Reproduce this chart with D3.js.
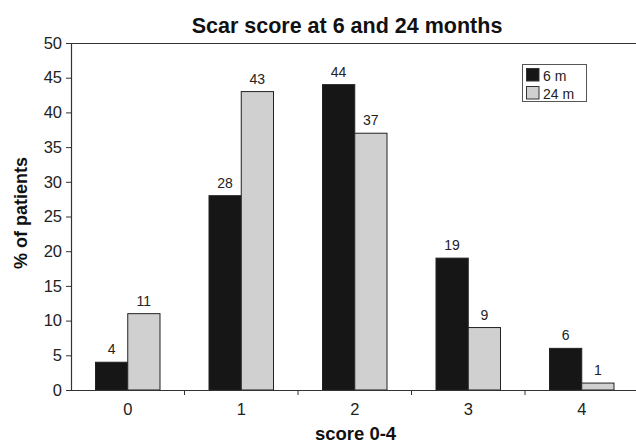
<!DOCTYPE html>
<html><head><meta charset="utf-8">
<script src="https://cdn.jsdelivr.net/npm/d3@7"></script>
<style>body{margin:0;background:#fff}svg{display:block}text{font-family:"Liberation Sans",Arial,sans-serif}</style>
</head><body>
<svg id="c" width="636" height="444"></svg>
<script>
const categories = ["0","1","2","3","4"];
const seriesNames = ["6 m","24 m"];
const values6m = [4,28,44,19,6];
const values24m = [11,43,37,9,1];
const yTicks = [0,5,10,15,20,25,30,35,40,45,50];
const colors = ["#161616","#d0d0d0"];

(function(){
const svg = d3.select("#c");
const mLeft = 71, mRight = 638.5, mTop = 43, mBottom = 390;
const x = d3.scaleBand().domain(categories).range([mLeft,mRight]).paddingInner(0).paddingOuter(0);
const x1 = d3.scaleBand().domain(seriesNames).range([24.5, x.bandwidth()-24.5]);
const y = d3.scaleLinear().domain([0,50]).range([mBottom,mTop]);

const data = categories.map((c,i)=>({cat:c, vals:[values6m[i], values24m[i]]}));

svg.append("line").attr("x1",mLeft).attr("x2",636).attr("y1",mTop+0.5).attr("y2",mTop+0.5).attr("stroke","#333").attr("stroke-width",1.2);

const g = svg.append("g");
data.forEach(d=>{
  d.vals.forEach((v,j)=>{
    const bx = x(d.cat)+x1(seriesNames[j]);
    g.append("rect").attr("x",bx).attr("y",y(v)).attr("width",x1.bandwidth()).attr("height",mBottom-y(v))
      .attr("fill",colors[j]).attr("stroke","#222").attr("stroke-width",1);
    g.append("text").attr("x",bx+x1.bandwidth()/2).attr("y",y(v)-8).attr("text-anchor","middle")
      .attr("font-size",14).attr("fill","#222").text(v);
  });
});

const ya = svg.append("g").attr("transform",`translate(${mLeft},0)`)
  .call(d3.axisLeft(y).tickValues(yTicks).tickSize(5).tickPadding(4));
ya.select(".domain").attr("stroke","#333").attr("stroke-width",1.2);
ya.selectAll(".tick line").attr("stroke","#333");
ya.selectAll(".tick text").attr("font-size",16.5).attr("fill","#222").attr("font-family","Liberation Sans, Arial, sans-serif");

const xa = svg.append("g").attr("transform",`translate(0,${mBottom})`)
  .call(d3.axisBottom(x).tickSize(0).tickPadding(13));
xa.select(".domain").attr("stroke","#333").attr("stroke-width",1.2);
xa.selectAll(".tick text").attr("font-size",16.5).attr("fill","#222").attr("font-family","Liberation Sans, Arial, sans-serif");
const xb = categories.slice(1).map(c=>x(c));
svg.append("g").selectAll("line").data(xb).join("line")
  .attr("x1",d=>d).attr("x2",d=>d).attr("y1",mBottom).attr("y2",mBottom+5).attr("stroke","#333");

svg.append("text").attr("x",347).attr("y",33).attr("text-anchor","middle").attr("font-weight","bold")
  .attr("font-size",21.5).attr("fill","#111").text("Scar score at 6 and 24 months");
svg.append("text").attr("x",355.5).attr("y",439.5).attr("text-anchor","middle").attr("font-weight","bold")
  .attr("font-size",18.5).attr("fill","#111").text("score 0-4");
svg.append("text").attr("transform","translate(26.5,213) rotate(-90)").attr("text-anchor","middle").attr("font-weight","bold")
  .attr("font-size",18).attr("fill","#111").text("% of patients");

const lg = svg.append("g");
lg.append("rect").attr("x",522.5).attr("y",64.5).attr("width",64).attr("height",37).attr("fill","#fff").attr("stroke","#555");
seriesNames.forEach((s,j)=>{
  lg.append("rect").attr("x",526.5).attr("y",68.5+j*18).attr("width",12.5).attr("height",12.5).attr("fill",colors[j]).attr("stroke","#333");
  lg.append("text").attr("x",543).attr("y",80.5+j*18).attr("font-size",14).attr("fill","#222").text(s);
});
})();
</script>
</body></html>
